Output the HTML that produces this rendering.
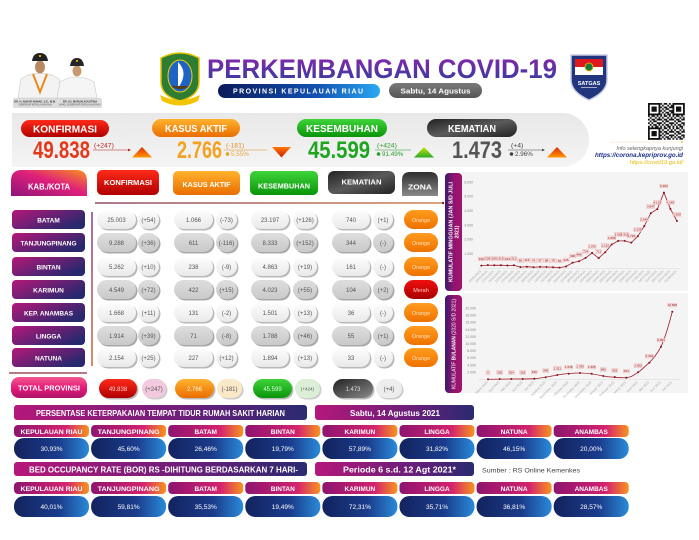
<!DOCTYPE html>
<html><head><meta charset="utf-8"><style>
html,body{margin:0;padding:0;background:#fff;width:699px;height:540px;overflow:hidden}
svg{display:block}
text{font-family:"Liberation Sans",sans-serif}
.v{font-size:6px;fill:#555;text-anchor:middle}
.nm{font-size:6.5px;fill:#fff;font-weight:bold;text-anchor:middle}
.zo{font-size:5.5px;fill:#ffe0b8;text-anchor:middle}
.yl{font-size:3.5px;fill:#888;text-anchor:end}
.xl{font-size:3.2px;fill:#aaa;text-anchor:end}
.lb{font-size:3px;fill:#7a1a1a;text-anchor:middle}
.bl{font-size:6.5px;fill:#fff;font-weight:bold;text-anchor:middle}
.bv{font-size:6.5px;fill:#fff;text-anchor:middle}
</style></head><body>
<svg width="699" height="540" viewBox="0 0 699 540" xmlns="http://www.w3.org/2000/svg">
<defs>
<linearGradient id="gTitle" x1="0" y1="0" x2="0" y2="1"><stop offset="0" stop-color="#8e24aa"/><stop offset="1" stop-color="#2f3fa0"/></linearGradient>
<linearGradient id="gProv" x1="0" y1="0" x2="1" y2="0"><stop offset="0" stop-color="#0b1a5a"/><stop offset=".6" stop-color="#1250b0"/><stop offset="1" stop-color="#2aa8f0"/></linearGradient>
<linearGradient id="gGrayP" x1="0" y1="0" x2="0" y2="1"><stop offset="0" stop-color="#7a7a7a"/><stop offset="1" stop-color="#555"/></linearGradient>
<linearGradient id="gRed" x1="0" y1="0" x2="0" y2="1"><stop offset="0" stop-color="#ff2a1a"/><stop offset="1" stop-color="#b00000"/></linearGradient>
<linearGradient id="gOr" x1="0" y1="0" x2="0" y2="1"><stop offset="0" stop-color="#ffb32e"/><stop offset="1" stop-color="#ea6d00"/></linearGradient>
<linearGradient id="gGreen" x1="0" y1="0" x2="0" y2="1"><stop offset="0" stop-color="#3fd43a"/><stop offset="1" stop-color="#0a940a"/></linearGradient>
<linearGradient id="gDark" x1="0" y1="0" x2="1" y2="1"><stop offset="0" stop-color="#222"/><stop offset=".5" stop-color="#5a5a5a"/><stop offset="1" stop-color="#222"/></linearGradient>
<linearGradient id="gZona" x1="0" y1="0" x2="0" y2="1"><stop offset="0" stop-color="#2e2e2e"/><stop offset="1" stop-color="#8a8a8a"/></linearGradient>
<linearGradient id="gKab" x1="0" y1="1" x2="1" y2="0"><stop offset="0" stop-color="#8e147a"/><stop offset=".55" stop-color="#e0207a"/><stop offset="1" stop-color="#f7931e"/></linearGradient>
<linearGradient id="gName" x1="0" y1="0" x2="1" y2=".6"><stop offset="0" stop-color="#b5187a"/><stop offset="1" stop-color="#28286e"/></linearGradient>
<linearGradient id="gTot" x1="0" y1="0" x2="0" y2="1"><stop offset="0" stop-color="#f25a8e"/><stop offset=".5" stop-color="#e61c7a"/><stop offset="1" stop-color="#ad126a"/></linearGradient>
<linearGradient id="gL" x1="0" y1="0" x2="0" y2="1"><stop offset="0" stop-color="#fdfdfd"/><stop offset="1" stop-color="#e9e9e9"/></linearGradient>
<linearGradient id="gG" x1="0" y1="0" x2="0" y2="1"><stop offset="0" stop-color="#dedede"/><stop offset="1" stop-color="#c9c9c9"/></linearGradient>
<linearGradient id="gZO" x1="0" y1="0" x2="0" y2="1"><stop offset="0" stop-color="#ff9c1e"/><stop offset="1" stop-color="#ee7200"/></linearGradient>
<linearGradient id="gZR" x1="0" y1="0" x2="0" y2="1"><stop offset="0" stop-color="#f01010"/><stop offset="1" stop-color="#a80000"/></linearGradient>
<linearGradient id="gDT" x1="0" y1="0" x2="1" y2="1"><stop offset="0" stop-color="#222"/><stop offset="1" stop-color="#8a8a8a"/></linearGradient>
<linearGradient id="gBand" x1="0" y1="0" x2="0" y2="1"><stop offset="0" stop-color="#e8e8e8"/><stop offset="1" stop-color="#f4f4f4"/></linearGradient>
<linearGradient id="gBar" x1="0" y1="0" x2="1" y2="0"><stop offset="0" stop-color="#b5187a"/><stop offset=".6" stop-color="#6a1e7a"/><stop offset="1" stop-color="#2a2a70"/></linearGradient>
<linearGradient id="gLab" x1="0" y1="0" x2="1" y2="0"><stop offset="0" stop-color="#8e1470"/><stop offset=".7" stop-color="#d4246e"/><stop offset="1" stop-color="#f7941d"/></linearGradient>
<linearGradient id="gVal" x1="0" y1="0" x2="1" y2="0"><stop offset="0" stop-color="#13235e"/><stop offset=".6" stop-color="#1a3c8c"/><stop offset="1" stop-color="#2a8ad8"/></linearGradient>
<linearGradient id="gSide" x1="0" y1="0" x2="1" y2="0"><stop offset="0" stop-color="#3a1a6e"/><stop offset=".5" stop-color="#8e1470"/><stop offset="1" stop-color="#a3146e"/></linearGradient>
<linearGradient id="gTriU" x1="0" y1="0" x2="0" y2="1"><stop offset="0" stop-color="#e02a00"/><stop offset="1" stop-color="#ff9800"/></linearGradient>
<linearGradient id="gTriD" x1="0" y1="0" x2="0" y2="1"><stop offset="0" stop-color="#ff7a00"/><stop offset="1" stop-color="#d01a00"/></linearGradient>
<linearGradient id="gTriG" x1="0" y1="0" x2="0" y2="1"><stop offset="0" stop-color="#c8e600"/><stop offset="1" stop-color="#2aa82a"/></linearGradient>
<linearGradient id="gLine" gradientUnits="userSpaceOnUse" x1="95" y1="0" x2="443" y2="0"><stop offset="0" stop-color="#7a2a4a"/><stop offset="1" stop-color="#c86a30"/></linearGradient>
<linearGradient id="gVLine" gradientUnits="userSpaceOnUse" x1="0" y1="212" x2="0" y2="366"><stop offset="0" stop-color="#8a3a8a"/><stop offset="1" stop-color="#c86a30"/></linearGradient>
<pattern id="qr" x="648" y="103" width="12.25" height="12.25" patternUnits="userSpaceOnUse">
<rect width="12.25" height="12.25" fill="#fff"/>
<g fill="#111">
<rect x="0" y="0" width="1.75" height="1.75"/><rect x="3.5" y="0" width="3.5" height="1.75"/><rect x="8.75" y="0" width="1.75" height="1.75"/>
<rect x="1.75" y="1.75" width="1.75" height="1.75"/><rect x="7" y="1.75" width="1.75" height="1.75"/><rect x="10.5" y="1.75" width="1.75" height="1.75"/>
<rect x="0" y="3.5" width="1.75" height="1.75"/><rect x="3.5" y="3.5" width="3.5" height="1.75"/><rect x="8.75" y="3.5" width="3.5" height="1.75"/>
<rect x="1.75" y="5.25" width="1.75" height="1.75"/><rect x="5.25" y="5.25" width="3.5" height="1.75"/>
<rect x="0" y="7" width="1.75" height="1.75"/><rect x="3.5" y="7" width="1.75" height="1.75"/><rect x="8.75" y="7" width="3.5" height="1.75"/>
<rect x="1.75" y="8.75" width="1.75" height="1.75"/><rect x="5.25" y="8.75" width="3.5" height="1.75"/><rect x="10.5" y="8.75" width="1.75" height="1.75"/>
<rect x="0" y="10.5" width="1.75" height="1.75"/><rect x="3.5" y="10.5" width="1.75" height="1.75"/><rect x="7" y="10.5" width="3.5" height="1.75"/>
</g></pattern>
<g id="rowL">
<rect x="98.5" y="1.5" width="39" height="19" rx="9.5" fill="#b8b8b8"/><rect x="97" y="0" width="39" height="19" rx="9.5" fill="url(#gL)"/>
<rect x="139.5" y="1.5" width="21" height="19" rx="9.5" fill="#b8b8b8"/><rect x="138" y="0" width="21" height="19" rx="9.5" fill="url(#gL)"/>
<rect x="175.5" y="1.5" width="39" height="19" rx="9.5" fill="#b8b8b8"/><rect x="174" y="0" width="39" height="19" rx="9.5" fill="url(#gL)"/>
<rect x="217.5" y="1.5" width="21" height="19" rx="9.5" fill="#b8b8b8"/><rect x="216" y="0" width="21" height="19" rx="9.5" fill="url(#gL)"/>
<rect x="252.5" y="1.5" width="38" height="19" rx="9.5" fill="#b8b8b8"/><rect x="251" y="0" width="38" height="19" rx="9.5" fill="url(#gL)"/>
<rect x="294.5" y="1.5" width="24" height="19" rx="9.5" fill="#b8b8b8"/><rect x="293" y="0" width="24" height="19" rx="9.5" fill="url(#gL)"/>
<rect x="333.5" y="1.5" width="38" height="19" rx="9.5" fill="#b8b8b8"/><rect x="332" y="0" width="38" height="19" rx="9.5" fill="url(#gL)"/>
<rect x="374.5" y="1.5" width="20" height="19" rx="9.5" fill="#b8b8b8"/><rect x="373" y="0" width="20" height="19" rx="9.5" fill="url(#gL)"/>
</g>
<g id="rowG">
<rect x="98.5" y="1.5" width="39" height="19" rx="9.5" fill="#a8a8a8"/><rect x="97" y="0" width="39" height="19" rx="9.5" fill="url(#gG)"/>
<rect x="139.5" y="1.5" width="21" height="19" rx="9.5" fill="#a8a8a8"/><rect x="138" y="0" width="21" height="19" rx="9.5" fill="url(#gG)"/>
<rect x="175.5" y="1.5" width="39" height="19" rx="9.5" fill="#a8a8a8"/><rect x="174" y="0" width="39" height="19" rx="9.5" fill="url(#gG)"/>
<rect x="217.5" y="1.5" width="21" height="19" rx="9.5" fill="#a8a8a8"/><rect x="216" y="0" width="21" height="19" rx="9.5" fill="url(#gG)"/>
<rect x="252.5" y="1.5" width="38" height="19" rx="9.5" fill="#a8a8a8"/><rect x="251" y="0" width="38" height="19" rx="9.5" fill="url(#gG)"/>
<rect x="294.5" y="1.5" width="24" height="19" rx="9.5" fill="#a8a8a8"/><rect x="293" y="0" width="24" height="19" rx="9.5" fill="url(#gG)"/>
<rect x="333.5" y="1.5" width="38" height="19" rx="9.5" fill="#a8a8a8"/><rect x="332" y="0" width="38" height="19" rx="9.5" fill="url(#gG)"/>
<rect x="374.5" y="1.5" width="20" height="19" rx="9.5" fill="#a8a8a8"/><rect x="373" y="0" width="20" height="19" rx="9.5" fill="url(#gG)"/>
</g>
<g id="labrow">
<rect x="14" y="0" width="75" height="12" rx="4" fill="url(#gLab)"/><rect x="91.1" y="0" width="75" height="12" rx="4" fill="url(#gLab)"/>
<rect x="168.2" y="0" width="75" height="12" rx="4" fill="url(#gLab)"/><rect x="245.3" y="0" width="75" height="12" rx="4" fill="url(#gLab)"/>
<rect x="322.4" y="0" width="75" height="12" rx="4" fill="url(#gLab)"/><rect x="399.5" y="0" width="75" height="12" rx="4" fill="url(#gLab)"/>
<rect x="476.6" y="0" width="75" height="12" rx="4" fill="url(#gLab)"/><rect x="553.7" y="0" width="75" height="12" rx="4" fill="url(#gLab)"/>
</g>
<g id="valrow">
<rect x="14" y="0" width="75" height="21" rx="10" fill="url(#gVal)"/><rect x="91.1" y="0" width="75" height="21" rx="10" fill="url(#gVal)"/>
<rect x="168.2" y="0" width="75" height="21" rx="10" fill="url(#gVal)"/><rect x="245.3" y="0" width="75" height="21" rx="10" fill="url(#gVal)"/>
<rect x="322.4" y="0" width="75" height="21" rx="10" fill="url(#gVal)"/><rect x="399.5" y="0" width="75" height="21" rx="10" fill="url(#gVal)"/>
<rect x="476.6" y="0" width="75" height="21" rx="10" fill="url(#gVal)"/><rect x="553.7" y="0" width="75" height="21" rx="10" fill="url(#gVal)"/>
</g>
</defs>

<!-- HEADER: portraits -->
<rect x="13" y="98" width="89" height="10" rx="2" fill="#dcdcdc"/>
<text x="35" y="102.5" font-size="2.6" fill="#333" text-anchor="middle" font-weight="bold">DR. H. ANSAR AHMAD, S.E., M.M.</text>
<text x="35" y="105.5" font-size="2.3" fill="#555" text-anchor="middle">GUBERNUR KEPULAUAN RIAU</text>
<text x="80" y="102.5" font-size="2.6" fill="#333" text-anchor="middle" font-weight="bold">DR. HJ. MARLIN AGUSTINA</text>
<text x="80" y="105.5" font-size="2.3" fill="#555" text-anchor="middle">WAKIL GUBERNUR KEPULAUAN RIAU</text>
<path d="M18,98 L21,79 Q30,73 40,73 Q50,73 59,79 L62,98 Z" fill="#f3f3f3" stroke="#c8c8c8" stroke-width=".6"/>
<polyline points="33,74 40,92 47,74" fill="none" stroke="#e8891a" stroke-width="2"/>
<ellipse cx="40" cy="67" rx="5" ry="6.5" fill="#b98760"/>
<path d="M32,61 Q33,53 40,53 Q47,53 48,61 Z" fill="#222"/>
<rect x="39" y="55" width="2" height="2" fill="#e0b000"/>
<path d="M57,98 L60,82 Q68,77 77,77 Q86,77 94,82 L97,98 Z" fill="#f5f5f5" stroke="#c8c8c8" stroke-width=".6"/>
<ellipse cx="77" cy="71" rx="4.5" ry="5.5" fill="#c9986e"/>
<path d="M70,66 Q71,58 77,58 Q83,58 84,66 Z" fill="#262626"/>
<rect x="76" y="60" width="2" height="1.8" fill="#e0b000"/>

<!-- Kepri logo -->
<path d="M161,58 Q180,48 199,58 L199,82 Q199,96 180,101 Q161,96 161,82 Z" fill="#2e7d32" stroke="#e6c200" stroke-width="1.5"/>
<ellipse cx="180" cy="76" rx="12" ry="16" fill="#1e63c6" stroke="#f5d000" stroke-width="1"/>
<path d="M178,62 Q189,73 178,88 Z" fill="#fff"/>
<path d="M171,86 Q180,92 189,86 Z" fill="#5a3a1a"/>
<path d="M160,95 Q180,105 200,95 L198,101 Q180,110 162,101 Z" fill="#f2c500"/>

<!-- Title -->
<text x="207" y="78" font-size="27" font-weight="bold" fill="url(#gTitle)" textLength="350" lengthAdjust="spacingAndGlyphs">PERKEMBANGAN COVID-19</text>
<rect x="218" y="84" width="162" height="14" rx="7" fill="url(#gProv)"/>
<text x="298" y="93.6" font-size="7" font-weight="bold" fill="#fff" text-anchor="middle" textLength="130" lengthAdjust="spacing">PROVINSI KEPULAUAN RIAU</text>
<rect x="389" y="83" width="93" height="15" rx="7.5" fill="url(#gGrayP)"/>
<text x="435.5" y="93.3" font-size="7.5" font-weight="bold" fill="#fff" text-anchor="middle" textLength="70" lengthAdjust="spacingAndGlyphs">Sabtu, 14 Agustus</text>

<!-- Satgas logo -->
<path d="M571,55 H607 V80 Q607,92 589,100 Q571,92 571,80 Z" fill="#22357f" stroke="#c9cde0" stroke-width="1.5"/>
<rect x="575" y="59" width="28" height="8" fill="#e0191e"/>
<rect x="575" y="67" width="28" height="8" fill="#fff"/>
<circle cx="589" cy="67" r="4" fill="#1a7a3a" stroke="#f0c000" stroke-width=".8"/>
<text x="589" y="85" font-size="5.5" font-weight="bold" fill="#fff" text-anchor="middle">SATGAS</text>
<rect x="581" y="87" width="16" height="1" fill="#aab"/>

<!-- QR -->
<rect x="648" y="103" width="36.75" height="36.75" fill="url(#qr)"/>
<g>
<rect x="648" y="103" width="12.25" height="12.25" fill="#111"/><rect x="649.75" y="104.75" width="8.75" height="8.75" fill="#fff"/><rect x="651.5" y="106.5" width="5.25" height="5.25" fill="#111"/>
<rect x="672.5" y="103" width="12.25" height="12.25" fill="#111"/><rect x="674.25" y="104.75" width="8.75" height="8.75" fill="#fff"/><rect x="676" y="106.5" width="5.25" height="5.25" fill="#111"/>
<rect x="648" y="127.5" width="12.25" height="12.25" fill="#111"/><rect x="649.75" y="129.25" width="8.75" height="8.75" fill="#fff"/><rect x="651.5" y="131" width="5.25" height="5.25" fill="#111"/>
</g>
<line x1="610" y1="142" x2="682" y2="142" stroke="#efe2b0" stroke-width=".6"/>
<circle cx="682" cy="142" r=".9" fill="#e0b000"/>
<text x="683" y="150" font-size="5.5" font-style="italic" fill="#666" text-anchor="end">Info selengkapnya kunjungi</text>
<text x="683" y="157" font-size="6.3" font-style="italic" font-weight="bold" fill="#1d2f8a" text-anchor="end" textLength="88" lengthAdjust="spacingAndGlyphs">https://corona.kepriprov.go.id</text>
<text x="683" y="164" font-size="5.8" font-style="italic" fill="#e6b800" text-anchor="end">https://covid19.go.id/</text>

<!-- SUMMARY BAND -->
<path d="M12,113 H562 A27,27 0 0 1 562,167 H12 Z" fill="url(#gBand)"/>
<rect x="21" y="120" width="88" height="17" rx="8.5" fill="url(#gRed)"/>
<text x="65" y="132.5" font-size="10" font-weight="bold" fill="#fff" text-anchor="middle" textLength="64" lengthAdjust="spacingAndGlyphs">KONFIRMASI</text>
<text x="33" y="158" font-size="24" font-weight="bold" fill="#e5381a" textLength="57" lengthAdjust="spacingAndGlyphs">49.838</text>
<text x="94" y="147.5" font-size="6.8" fill="#b71c1c">(+247)</text>
<line x1="93" y1="150" x2="130" y2="150" stroke="#b71c1c" stroke-width=".6"/>
<path d="M128,148.6 L131,150 L128,151.4 Z" fill="#b71c1c"/>
<path d="M132,157.5 L152,157.5 L142,147 Z" fill="url(#gTriU)"/>

<rect x="152" y="119" width="88" height="18" rx="9" fill="url(#gOr)"/>
<text x="196" y="132" font-size="10" font-weight="bold" fill="#fff" text-anchor="middle" textLength="62" lengthAdjust="spacingAndGlyphs">KASUS AKTIF</text>
<text x="177" y="158" font-size="24" font-weight="bold" fill="#f3a221" textLength="45" lengthAdjust="spacingAndGlyphs">2.766</text>
<text x="226" y="147.5" font-size="6.8" fill="#e08a1a">(-181)</text>
<line x1="224" y1="150" x2="267" y2="150" stroke="#e08a1a" stroke-width=".6"/>
<circle cx="227.5" cy="154" r="1.8" fill="#e8a020"/>
<text x="231" y="156" font-size="6.3" fill="#e8a33a">5.55%</text>
<path d="M272,147 L291,147 L281.5,157.5 Z" fill="url(#gTriD)"/>

<rect x="297" y="119" width="90" height="18" rx="9" fill="url(#gGreen)"/>
<text x="342" y="132" font-size="10" font-weight="bold" fill="#fff" text-anchor="middle" textLength="72" lengthAdjust="spacingAndGlyphs">KESEMBUHAN</text>
<text x="308" y="158" font-size="24" font-weight="bold" fill="#1fa51f" textLength="62" lengthAdjust="spacingAndGlyphs">45.599</text>
<text x="377" y="147.5" font-size="6.8" fill="#2a9a2a">(+424)</text>
<line x1="375" y1="150" x2="411" y2="150" stroke="#2a9a2a" stroke-width=".6"/>
<circle cx="378.5" cy="154" r="1.8" fill="#2a9a2a"/>
<text x="382" y="156" font-size="6.3" fill="#2a9a2a">91.49%</text>
<path d="M414,157.5 L434,157.5 L424,147 Z" fill="url(#gTriG)"/>

<rect x="427" y="119" width="90" height="18" rx="9" fill="url(#gDark)"/>
<text x="472" y="132" font-size="10" font-weight="bold" fill="#fff" text-anchor="middle" textLength="48" lengthAdjust="spacingAndGlyphs">KEMATIAN</text>
<text x="452" y="158" font-size="24" font-weight="bold" fill="#555" textLength="50" lengthAdjust="spacingAndGlyphs">1.473</text>
<text x="511" y="147.5" font-size="6.8" fill="#444">(+4)</text>
<line x1="508" y1="150" x2="544" y2="150" stroke="#444" stroke-width=".6"/>
<path d="M542,148.6 L545,150 L542,151.4 Z" fill="#444"/>
<circle cx="511.5" cy="154" r="1.8" fill="#444"/>
<text x="515" y="156" font-size="6.3" fill="#444">2.96%</text>
<path d="M547,157.5 L567,157.5 L557,147 Z" fill="url(#gTriU)"/>

<!-- TABLE HEADERS -->
<path d="M11,196 V181 Q11,170 22,170 H76 Q87,170 87,181 V196 Z" fill="url(#gKab)"/>
<text x="49" y="189.5" font-size="8" font-weight="bold" fill="#fff" text-anchor="middle" textLength="42" lengthAdjust="spacingAndGlyphs">KAB./KOTA</text>
<rect x="97" y="170" width="62" height="25" rx="5" fill="url(#gRed)"/>
<text x="128" y="185" font-size="7.5" font-weight="bold" fill="#fff" text-anchor="middle" textLength="48" lengthAdjust="spacingAndGlyphs">KONFIRMASI</text>
<rect x="173" y="171" width="67" height="24" rx="5" fill="url(#gOr)"/>
<text x="206.5" y="187" font-size="7.5" font-weight="bold" fill="#fff" text-anchor="middle" textLength="48" lengthAdjust="spacingAndGlyphs">KASUS AKTIF</text>
<rect x="250" y="171" width="68" height="24" rx="5" fill="url(#gGreen)"/>
<text x="284" y="188.5" font-size="7.5" font-weight="bold" fill="#fff" text-anchor="middle" textLength="52" lengthAdjust="spacingAndGlyphs">KESEMBUHAN</text>
<rect x="328" y="171" width="67" height="23" rx="6" fill="url(#gDark)"/>
<text x="361.5" y="184.5" font-size="7.5" font-weight="bold" fill="#fff" text-anchor="middle" textLength="40" lengthAdjust="spacingAndGlyphs">KEMATIAN</text>
<path d="M402,196 V180 Q402,172 410,172 H430 Q438,172 438,180 V196 Z" fill="url(#gZona)"/>
<text x="420" y="189.5" font-size="7.5" font-weight="bold" fill="#fff" text-anchor="middle" textLength="24" lengthAdjust="spacingAndGlyphs">ZONA</text>
<line x1="95" y1="203" x2="443" y2="203" stroke="url(#gLine)" stroke-width="1.2"/>
<circle cx="443" cy="203" r="1.2" fill="#7a2a2a"/>
<line x1="92" y1="212" x2="92" y2="366" stroke="url(#gVLine)" stroke-width="1.5"/>
<line x1="9" y1="373" x2="87" y2="373" stroke="#8b2a3a" stroke-width="1.2"/>

<!-- ROWS -->
<use href="#rowL" y="210"/><use href="#rowG" y="233"/><use href="#rowL" y="257"/><use href="#rowG" y="280"/>
<use href="#rowL" y="303"/><use href="#rowG" y="326"/><use href="#rowL" y="348"/>

<g transform="translate(0,210)">
<rect x="12" y="0" width="73" height="19" rx="4" fill="url(#gName)"/><text class="nm" x="48.5" y="12.3">BATAM</text>
<text class="v" x="116.5" y="11.8">25.003</text><text class="v" x="148.5" y="11.8">(+54)</text><text class="v" x="193.5" y="11.8">1.066</text><text class="v" x="226.5" y="11.8">(-73)</text>
<text class="v" x="270" y="11.8">23.197</text><text class="v" x="305" y="11.8">(+126)</text><text class="v" x="351" y="11.8">740</text><text class="v" x="383" y="11.8">(+1)</text>
<rect x="404" y="0" width="34" height="19" rx="9.5" fill="url(#gZO)"/><text class="zo" x="421" y="11.8">Orange</text>
</g>
<g transform="translate(0,233)">
<rect x="12" y="0" width="73" height="19" rx="4" fill="url(#gName)"/><text class="nm" x="48.5" y="12.3" textLength="56" lengthAdjust="spacingAndGlyphs">TANJUNGPINANG</text>
<text class="v" x="116.5" y="11.8">9.288</text><text class="v" x="148.5" y="11.8">(+36)</text><text class="v" x="193.5" y="11.8">611</text><text class="v" x="226.5" y="11.8">(-116)</text>
<text class="v" x="270" y="11.8">8.333</text><text class="v" x="305" y="11.8">(+152)</text><text class="v" x="351" y="11.8">344</text><text class="v" x="383" y="11.8">(-)</text>
<rect x="404" y="0" width="34" height="19" rx="9.5" fill="url(#gZO)"/><text class="zo" x="421" y="11.8">Orange</text>
</g>
<g transform="translate(0,257)">
<rect x="12" y="0" width="73" height="19" rx="4" fill="url(#gName)"/><text class="nm" x="48.5" y="12.3">BINTAN</text>
<text class="v" x="116.5" y="11.8">5.262</text><text class="v" x="148.5" y="11.8">(+10)</text><text class="v" x="193.5" y="11.8">238</text><text class="v" x="226.5" y="11.8">(-9)</text>
<text class="v" x="270" y="11.8">4.863</text><text class="v" x="305" y="11.8">(+19)</text><text class="v" x="351" y="11.8">161</text><text class="v" x="383" y="11.8">(-)</text>
<rect x="404" y="0" width="34" height="19" rx="9.5" fill="url(#gZO)"/><text class="zo" x="421" y="11.8">Orange</text>
</g>
<g transform="translate(0,280)">
<rect x="12" y="0" width="73" height="19" rx="4" fill="url(#gName)"/><text class="nm" x="48.5" y="12.3">KARIMUN</text>
<text class="v" x="116.5" y="11.8">4.549</text><text class="v" x="148.5" y="11.8">(+72)</text><text class="v" x="193.5" y="11.8">422</text><text class="v" x="226.5" y="11.8">(+15)</text>
<text class="v" x="270" y="11.8">4.023</text><text class="v" x="305" y="11.8">(+55)</text><text class="v" x="351" y="11.8">104</text><text class="v" x="383" y="11.8">(+2)</text>
<rect x="404" y="0" width="34" height="19" rx="9.5" fill="url(#gZR)"/><text class="zo" x="421" y="11.8" style="fill:#ffc8c8">Merah</text>
</g>
<g transform="translate(0,303)">
<rect x="12" y="0" width="73" height="19" rx="4" fill="url(#gName)"/><text class="nm" x="48.5" y="12.3">KEP. ANAMBAS</text>
<text class="v" x="116.5" y="11.8">1.668</text><text class="v" x="148.5" y="11.8">(+11)</text><text class="v" x="193.5" y="11.8">131</text><text class="v" x="226.5" y="11.8">(-2)</text>
<text class="v" x="270" y="11.8">1.501</text><text class="v" x="305" y="11.8">(+13)</text><text class="v" x="351" y="11.8">36</text><text class="v" x="383" y="11.8">(-)</text>
<rect x="404" y="0" width="34" height="19" rx="9.5" fill="url(#gZO)"/><text class="zo" x="421" y="11.8">Orange</text>
</g>
<g transform="translate(0,326)">
<rect x="12" y="0" width="73" height="19" rx="4" fill="url(#gName)"/><text class="nm" x="48.5" y="12.3">LINGGA</text>
<text class="v" x="116.5" y="11.8">1.914</text><text class="v" x="148.5" y="11.8">(+39)</text><text class="v" x="193.5" y="11.8">71</text><text class="v" x="226.5" y="11.8">(-8)</text>
<text class="v" x="270" y="11.8">1.788</text><text class="v" x="305" y="11.8">(+46)</text><text class="v" x="351" y="11.8">55</text><text class="v" x="383" y="11.8">(+1)</text>
<rect x="404" y="0" width="34" height="19" rx="9.5" fill="url(#gZO)"/><text class="zo" x="421" y="11.8">Orange</text>
</g>
<g transform="translate(0,348)">
<rect x="12" y="0" width="73" height="19" rx="4" fill="url(#gName)"/><text class="nm" x="48.5" y="12.3">NATUNA</text>
<text class="v" x="116.5" y="11.8">2.154</text><text class="v" x="148.5" y="11.8">(+25)</text><text class="v" x="193.5" y="11.8">227</text><text class="v" x="226.5" y="11.8">(+12)</text>
<text class="v" x="270" y="11.8">1.894</text><text class="v" x="305" y="11.8">(+13)</text><text class="v" x="351" y="11.8">33</text><text class="v" x="383" y="11.8">(-)</text>
<rect x="404" y="0" width="34" height="19" rx="9.5" fill="url(#gZO)"/><text class="zo" x="421" y="11.8">Orange</text>
</g>

<!-- TOTAL -->
<rect x="11" y="377" width="76" height="21" rx="8" fill="url(#gTot)"/>
<text x="49" y="390.5" font-size="7.5" font-weight="bold" fill="#fff" text-anchor="middle" textLength="62" lengthAdjust="spacingAndGlyphs">TOTAL PROVINSI</text>
<rect x="100.5" y="380.5" width="38" height="19" rx="9.5" fill="#bbb"/><rect x="99" y="379" width="38" height="19" rx="9.5" fill="url(#gRed)"/>
<text class="v" x="118" y="390.8" style="fill:#ffd0d0">49.838</text>
<rect x="143.5" y="380.5" width="24" height="19" rx="9.5" fill="#ccc"/><rect x="142" y="379" width="24" height="19" rx="9.5" fill="#f2c9de"/>
<text class="v" x="154" y="390.8">(+247)</text>
<rect x="176.5" y="380.5" width="39" height="19" rx="9.5" fill="#bbb"/><rect x="175" y="379" width="39" height="19" rx="9.5" fill="url(#gOr)"/>
<text class="v" x="194.5" y="390.8" style="fill:#fff3e0">2.766</text>
<rect x="218.5" y="380.5" width="25" height="19" rx="9.5" fill="#ccc"/><rect x="217" y="379" width="25" height="19" rx="9.5" fill="#fae9c8"/>
<text class="v" x="229.5" y="390.8">(-181)</text>
<rect x="254.5" y="380.5" width="39" height="19" rx="9.5" fill="#bbb"/><rect x="253" y="379" width="39" height="19" rx="9.5" fill="url(#gGreen)"/>
<text class="v" x="272.5" y="390.8" style="fill:#d8ffd8">45.599</text>
<rect x="296.5" y="380.5" width="25" height="19" rx="9.5" fill="#ccc"/><rect x="295" y="379" width="25" height="19" rx="9.5" fill="#dcefd6"/>
<text class="v" x="307.5" y="390.3" style="font-size:4.5px">(+424)</text>
<rect x="334.5" y="380.5" width="40" height="19" rx="9.5" fill="#bbb"/><rect x="333" y="379" width="40" height="19" rx="9.5" fill="url(#gDT)"/>
<text class="v" x="353" y="390.8" style="fill:#ddd">1.473</text>
<rect x="377.5" y="380.5" width="26" height="19" rx="9.5" fill="#ccc"/><rect x="376" y="379" width="26" height="19" rx="9.5" fill="#ededed"/>
<text class="v" x="389" y="390.8">(+4)</text>

<!-- CHART 1 -->
<rect x="462" y="172" width="226" height="119" fill="#f4f4f4"/>
<rect x="445" y="173" width="17" height="118" rx="4" fill="url(#gSide)"/>
<text transform="translate(452.5,232) rotate(-90)" font-size="5" font-weight="bold" fill="#fff" text-anchor="middle" textLength="100" lengthAdjust="spacingAndGlyphs">KUMULATIF MINGGUAN (JAN S/D JULI</text>
<text transform="translate(458.5,232) rotate(-90)" font-size="5" font-weight="bold" fill="#fff" text-anchor="middle">2021)</text>
<line x1="478" y1="268.3" x2="681" y2="268.3" stroke="#d8d8d8" stroke-width=".5"/>
<g>
<text class="yl" x="473" y="255">1.000</text><text class="yl" x="473" y="240.7">2.000</text><text class="yl" x="473" y="226.3">3.000</text>
<text class="yl" x="473" y="212">4.000</text><text class="yl" x="473" y="197.7">5.000</text><text class="yl" x="473" y="183.3">6.000</text>
</g>
<polyline fill="none" stroke="#a11d2a" stroke-width=".8" points="481.3,265.6 487.8,265.1 494.3,265.3 500.9,265.2 507.4,265.5 513.9,265.3 520.4,267.1 526.9,266.7 533.5,267.2 540.0,266.9 546.5,267.0 553.0,267.2 559.5,267.6 566.1,266.5 572.6,262.6 579.1,261.3 585.6,257.9 592.1,252.9 598.7,258.1 605.2,252.2 611.7,244.5 618.2,240.9 624.7,240.9 631.3,242.6 637.8,236.3 644.3,226.1 650.8,213.2 657.3,209.1 663.9,192.6 670.4,208.9 676.9,221.0"/>
<g fill="#8a1020">
<circle cx="481.3" cy="265.6" r="1"/><circle cx="487.8" cy="265.1" r="1"/><circle cx="494.3" cy="265.3" r="1"/><circle cx="500.9" cy="265.2" r="1"/><circle cx="507.4" cy="265.5" r="1"/><circle cx="513.9" cy="265.3" r="1"/><circle cx="520.4" cy="267.1" r="1"/><circle cx="526.9" cy="266.7" r="1"/><circle cx="533.5" cy="267.2" r="1"/><circle cx="540.0" cy="266.9" r="1"/><circle cx="546.5" cy="267.0" r="1"/><circle cx="553.0" cy="267.2" r="1"/><circle cx="559.5" cy="267.6" r="1"/><circle cx="566.1" cy="266.5" r="1"/><circle cx="572.6" cy="262.6" r="1"/><circle cx="579.1" cy="261.3" r="1"/><circle cx="585.6" cy="257.9" r="1"/><circle cx="592.1" cy="252.9" r="1"/><circle cx="598.7" cy="258.1" r="1"/><circle cx="605.2" cy="252.2" r="1"/><circle cx="611.7" cy="244.5" r="1"/><circle cx="618.2" cy="240.9" r="1"/><circle cx="624.7" cy="240.9" r="1"/><circle cx="631.3" cy="242.6" r="1"/><circle cx="637.8" cy="236.3" r="1"/><circle cx="644.3" cy="226.1" r="1"/><circle cx="650.8" cy="213.2" r="1"/><circle cx="657.3" cy="209.1" r="1"/><circle cx="663.9" cy="192.6" r="1"/><circle cx="670.4" cy="208.9" r="1"/><circle cx="676.9" cy="221.0" r="1"/>
</g>
<g fill="#fbe0e0" stroke="#e4a0a0" stroke-width=".3">
<rect x="478.3" y="257.1" width="6" height="3.8"/><rect x="484.8" y="256.6" width="6" height="3.8"/><rect x="491.3" y="256.8" width="6" height="3.8"/><rect x="497.9" y="256.7" width="6" height="3.8"/><rect x="504.4" y="257" width="6" height="3.8"/><rect x="510.9" y="256.8" width="6" height="3.8"/><rect x="517.4" y="258.6" width="6" height="3.8"/><rect x="523.9" y="258.2" width="6" height="3.8"/><rect x="530.5" y="258.7" width="6" height="3.8"/><rect x="537" y="258.4" width="6" height="3.8"/><rect x="543.5" y="258.5" width="6" height="3.8"/><rect x="550" y="258.7" width="6" height="3.8"/><rect x="556.5" y="259.1" width="6" height="3.8"/><rect x="563.1" y="258" width="6" height="3.8"/><rect x="569.6" y="254.1" width="6" height="3.8"/><rect x="576.1" y="252.8" width="6" height="3.8"/><rect x="582.6" y="249.4" width="6" height="3.8"/><rect x="588.1" y="244.4" width="8" height="3.8"/><rect x="595.7" y="249.6" width="6" height="3.8"/><rect x="601.2" y="243.7" width="8" height="3.8"/><rect x="607.7" y="236" width="8" height="3.8"/><rect x="614.2" y="232.4" width="8" height="3.8"/><rect x="620.7" y="232.4" width="8" height="3.8"/><rect x="627.3" y="234.1" width="8" height="3.8"/><rect x="633.8" y="227.8" width="8" height="3.8"/><rect x="640.3" y="217.6" width="8" height="3.8"/><rect x="646.8" y="204.7" width="8" height="3.8"/><rect x="653.3" y="200.6" width="8" height="3.8"/><rect x="659.9" y="184.1" width="8" height="3.8"/><rect x="666.4" y="200.4" width="8" height="3.8"/><rect x="672.9" y="212.5" width="8" height="3.8"/>
</g>
<g>
<text class="lb" x="481.3" y="260">190</text><text class="lb" x="487.8" y="259.5">226</text><text class="lb" x="494.3" y="259.7">209</text><text class="lb" x="500.9" y="259.6">215</text><text class="lb" x="507.4" y="259.9">193</text><text class="lb" x="513.9" y="259.7">212</text><text class="lb" x="520.4" y="261.5">86</text><text class="lb" x="526.9" y="261.1">113</text><text class="lb" x="533.5" y="261.6">74</text><text class="lb" x="540" y="261.3">97</text><text class="lb" x="546.5" y="261.4">88</text><text class="lb" x="553" y="261.6">79</text><text class="lb" x="559.5" y="262">52</text><text class="lb" x="566.1" y="260.9">125</text><text class="lb" x="572.6" y="257">396</text><text class="lb" x="579.1" y="255.7">486</text><text class="lb" x="585.6" y="252.3">724</text><text class="lb" x="592.1" y="247.3">1.072</text><text class="lb" x="598.7" y="252.5">711</text><text class="lb" x="605.2" y="246.6">1.122</text><text class="lb" x="611.7" y="238.9">1.659</text><text class="lb" x="618.2" y="235.3">1.912</text><text class="lb" x="624.7" y="235.3">1.913</text><text class="lb" x="631.3" y="237">1.794</text><text class="lb" x="637.8" y="230.7">2.235</text><text class="lb" x="644.3" y="220.5">2.946</text><text class="lb" x="650.8" y="207.6">3.847</text><text class="lb" x="657.3" y="203.5">4.129</text><text class="lb" x="663.9" y="187">5.284</text><text class="lb" x="670.4" y="203.3">4.146</text><text class="lb" x="676.9" y="215.4">3.300</text>
</g>
<g>
<text class="xl" transform="translate(481.3,271.5) rotate(-45)">03/01/2021</text><text class="xl" transform="translate(487.8,271.5) rotate(-45)">10/01/2021</text><text class="xl" transform="translate(494.3,271.5) rotate(-45)">17/01/2021</text><text class="xl" transform="translate(500.9,271.5) rotate(-45)">24/01/2021</text><text class="xl" transform="translate(507.4,271.5) rotate(-45)">31/01/2021</text><text class="xl" transform="translate(513.9,271.5) rotate(-45)">07/02/2021</text><text class="xl" transform="translate(520.4,271.5) rotate(-45)">14/02/2021</text><text class="xl" transform="translate(526.9,271.5) rotate(-45)">21/02/2021</text><text class="xl" transform="translate(533.5,271.5) rotate(-45)">28/02/2021</text><text class="xl" transform="translate(540,271.5) rotate(-45)">07/03/2021</text><text class="xl" transform="translate(546.5,271.5) rotate(-45)">14/03/2021</text><text class="xl" transform="translate(553,271.5) rotate(-45)">21/03/2021</text><text class="xl" transform="translate(559.5,271.5) rotate(-45)">28/03/2021</text><text class="xl" transform="translate(566.1,271.5) rotate(-45)">04/04/2021</text><text class="xl" transform="translate(572.6,271.5) rotate(-45)">11/04/2021</text><text class="xl" transform="translate(579.1,271.5) rotate(-45)">18/04/2021</text><text class="xl" transform="translate(585.6,271.5) rotate(-45)">25/04/2021</text><text class="xl" transform="translate(592.1,271.5) rotate(-45)">02/05/2021</text><text class="xl" transform="translate(598.7,271.5) rotate(-45)">09/05/2021</text><text class="xl" transform="translate(605.2,271.5) rotate(-45)">16/05/2021</text><text class="xl" transform="translate(611.7,271.5) rotate(-45)">23/05/2021</text><text class="xl" transform="translate(618.2,271.5) rotate(-45)">30/05/2021</text><text class="xl" transform="translate(624.7,271.5) rotate(-45)">06/06/2021</text><text class="xl" transform="translate(631.3,271.5) rotate(-45)">13/06/2021</text><text class="xl" transform="translate(637.8,271.5) rotate(-45)">20/06/2021</text><text class="xl" transform="translate(644.3,271.5) rotate(-45)">27/06/2021</text><text class="xl" transform="translate(650.8,271.5) rotate(-45)">04/07/2021</text><text class="xl" transform="translate(657.3,271.5) rotate(-45)">11/07/2021</text><text class="xl" transform="translate(663.9,271.5) rotate(-45)">18/07/2021</text><text class="xl" transform="translate(670.4,271.5) rotate(-45)">25/07/2021</text><text class="xl" transform="translate(676.9,271.5) rotate(-45)">01/08/2021</text>
</g>

<!-- CHART 2 -->
<rect x="462" y="293" width="226" height="100" fill="#f4f4f4"/>
<rect x="445" y="295" width="17" height="98" rx="4" fill="url(#gSide)"/>
<text transform="translate(455.5,344) rotate(-90)" font-size="5" fill="#fff" text-anchor="middle" textLength="90" lengthAdjust="spacingAndGlyphs">KUMULATIF <tspan font-weight="bold">BULANAN</tspan> (2020 S/D 2021)</text>
<line x1="478" y1="379.5" x2="681" y2="379.5" stroke="#d8d8d8" stroke-width=".5"/>
<g>
<text class="yl" x="476" y="373.4">2.000</text><text class="yl" x="476" y="366.3">4.000</text><text class="yl" x="476" y="359.2">6.000</text><text class="yl" x="476" y="352.1">8.000</text><text class="yl" x="476" y="345">10.000</text><text class="yl" x="476" y="337.9">12.000</text><text class="yl" x="476" y="330.8">14.000</text><text class="yl" x="476" y="323.7">16.000</text><text class="yl" x="476" y="316.6">18.000</text><text class="yl" x="476" y="309.5">20.000</text>
</g>
<path fill="none" stroke="#a11d2a" stroke-width=".8" d="M488,379.3 C494,379.2 505,379 511.3,379 C517,379 528,379 534.3,378.7 C540,378.3 550,376.5 557.3,375 C563,374 574,373 580,373 C586,373 596,374.5 603.3,376 C609,377 620,377.9 626.3,377.7 C631,377.5 634,375 638,372.3 C643,369 645,366 649.3,362.7 C654,358 657,354 661,346.7 C666,336 669,324 672.3,311.7"/>
<g fill="#8a1020">
<circle cx="488" cy="379.3" r="1"/><circle cx="499.7" cy="379" r="1"/><circle cx="511.3" cy="379" r="1"/><circle cx="522.7" cy="379" r="1"/><circle cx="534.3" cy="378.7" r="1"/><circle cx="545.7" cy="377.3" r="1"/><circle cx="557.3" cy="375" r="1"/><circle cx="568.7" cy="373.7" r="1"/><circle cx="580" cy="373" r="1"/><circle cx="591.7" cy="373.7" r="1"/><circle cx="603.3" cy="376" r="1"/><circle cx="614.7" cy="377" r="1"/><circle cx="626.3" cy="377.7" r="1"/><circle cx="638" cy="372.3" r="1"/><circle cx="649.3" cy="362.7" r="1"/><circle cx="661" cy="346.7" r="1"/><circle cx="672.3" cy="311.7" r="1"/>
</g>
<g fill="#fbe0e0" stroke="#e4a0a0" stroke-width=".3">
<rect x="486" y="370.8" width="4" height="3.8"/><rect x="496.7" y="370.5" width="6" height="3.8"/><rect x="508.3" y="370.5" width="6" height="3.8"/><rect x="519.7" y="370.5" width="6" height="3.8"/><rect x="531.3" y="370.2" width="6" height="3.8"/><rect x="542.7" y="368.8" width="6" height="3.8"/><rect x="553.3" y="366.5" width="8" height="3.8"/><rect x="564.7" y="365.2" width="8" height="3.8"/><rect x="576" y="364.5" width="8" height="3.8"/><rect x="587.7" y="365.2" width="8" height="3.8"/><rect x="600.3" y="367.5" width="6" height="3.8"/><rect x="611.7" y="368.5" width="6" height="3.8"/><rect x="623.3" y="369.2" width="6" height="3.8"/><rect x="634" y="363.8" width="8" height="3.8"/><rect x="645.3" y="354.2" width="8" height="3.8"/><rect x="657" y="338.2" width="8" height="3.8"/><rect x="667.8" y="303.2" width="9" height="3.8"/>
</g>
<g>
<text class="lb" x="488" y="373.7">0</text><text class="lb" x="499.7" y="373.4">282</text><text class="lb" x="511.3" y="373.4">354</text><text class="lb" x="522.7" y="373.4">318</text><text class="lb" x="534.3" y="373.1">190</text><text class="lb" x="545.7" y="371.7">945</text><text class="lb" x="557.3" y="369.4">1.311</text><text class="lb" x="568.7" y="368.1">1.646</text><text class="lb" x="580" y="367.4">1.780</text><text class="lb" x="591.7" y="368.1">1.625</text><text class="lb" x="603.3" y="370.4">980</text><text class="lb" x="614.7" y="371.4">653</text><text class="lb" x="626.3" y="372.1">464</text><text class="lb" x="638" y="366.7">1.950</text><text class="lb" x="649.3" y="357.1">4.404</text><text class="lb" x="661" y="341.1">9.093</text><text class="lb" x="672.3" y="306.1">16.838</text>
</g>
<g>
<text class="xl" transform="translate(488,382.5) rotate(-45)">Maret 2020</text><text class="xl" transform="translate(499.7,382.5) rotate(-45)">April 2020</text><text class="xl" transform="translate(511.3,382.5) rotate(-45)">Mei 2020</text><text class="xl" transform="translate(522.7,382.5) rotate(-45)">Juni 2020</text><text class="xl" transform="translate(534.3,382.5) rotate(-45)">Juli 2020</text><text class="xl" transform="translate(545.7,382.5) rotate(-45)">Agustus 2020</text><text class="xl" transform="translate(557.3,382.5) rotate(-45)">September 2020</text><text class="xl" transform="translate(568.7,382.5) rotate(-45)">Oktober 2020</text><text class="xl" transform="translate(580,382.5) rotate(-45)">November 2020</text><text class="xl" transform="translate(591.7,382.5) rotate(-45)">Desember 2020</text><text class="xl" transform="translate(603.3,382.5) rotate(-45)">Januari 2021</text><text class="xl" transform="translate(614.7,382.5) rotate(-45)">Februari 2021</text><text class="xl" transform="translate(626.3,382.5) rotate(-45)">Maret 2021</text><text class="xl" transform="translate(638,382.5) rotate(-45)">April 2021</text><text class="xl" transform="translate(649.3,382.5) rotate(-45)">Mei 2021</text><text class="xl" transform="translate(661,382.5) rotate(-45)">Juni 2021</text><text class="xl" transform="translate(672.3,382.5) rotate(-45)">Juli 2021</text>
</g>

<!-- BOTTOM -->
<rect x="14" y="405" width="293" height="15" rx="3" fill="url(#gBar)"/>
<text x="160.5" y="415.8" font-size="8.5" font-weight="bold" fill="#fff" text-anchor="middle" textLength="249" lengthAdjust="spacingAndGlyphs">PERSENTASE KETERPAKAIAN TEMPAT TIDUR RUMAH SAKIT HARIAN</text>
<rect x="315" y="405" width="159" height="15" rx="3" fill="url(#gBar)"/>
<text x="395" y="415.8" font-size="8.5" font-weight="bold" fill="#fff" text-anchor="middle" textLength="90" lengthAdjust="spacingAndGlyphs">Sabtu, 14 Agustus 2021</text>
<use href="#labrow" y="425"/>
<use href="#valrow" y="438"/>
<g>
<text class="bl" x="51.5" y="434" textLength="62" lengthAdjust="spacingAndGlyphs">KEPULAUAN RIAU</text><text class="bl" x="128.6" y="434" textLength="62" lengthAdjust="spacingAndGlyphs">TANJUNGPINANG</text><text class="bl" x="205.7" y="434">BATAM</text><text class="bl" x="282.8" y="434">BINTAN</text><text class="bl" x="359.9" y="434">KARIMUN</text><text class="bl" x="437" y="434">LINGGA</text><text class="bl" x="514.1" y="434">NATUNA</text><text class="bl" x="591.2" y="434">ANAMBAS</text>
<text class="bv" x="51.5" y="451">30,93%</text><text class="bv" x="128.6" y="451">45,60%</text><text class="bv" x="205.7" y="451">26,46%</text><text class="bv" x="282.8" y="451">19,79%</text><text class="bv" x="359.9" y="451">57,89%</text><text class="bv" x="437" y="451">31,82%</text><text class="bv" x="514.1" y="451">46,15%</text><text class="bv" x="591.2" y="451">20,00%</text>
</g>
<rect x="14" y="462" width="293" height="14" rx="3" fill="url(#gBar)"/>
<text x="163.5" y="472.5" font-size="8.5" font-weight="bold" fill="#fff" text-anchor="middle" textLength="269" lengthAdjust="spacingAndGlyphs">BED OCCUPANCY RATE (BOR) RS -DIHITUNG BERDASARKAN 7 HARI-</text>
<rect x="315" y="462" width="159" height="14" rx="3" fill="url(#gBar)"/>
<text x="399.5" y="472.5" font-size="8.5" font-weight="bold" fill="#fff" text-anchor="middle" textLength="113" lengthAdjust="spacingAndGlyphs">Periode 6 s.d. 12 Agt 2021*</text>
<text x="482" y="472.5" font-size="6.5" fill="#444" textLength="98" lengthAdjust="spacingAndGlyphs">Sumber : RS Online Kemenkes</text>
<use href="#labrow" y="482"/>
<use href="#valrow" y="496"/>
<g>
<text class="bl" x="51.5" y="491" textLength="62" lengthAdjust="spacingAndGlyphs">KEPULAUAN RIAU</text><text class="bl" x="128.6" y="491" textLength="62" lengthAdjust="spacingAndGlyphs">TANJUNGPINANG</text><text class="bl" x="205.7" y="491">BATAM</text><text class="bl" x="282.8" y="491">BINTAN</text><text class="bl" x="359.9" y="491">KARIMUN</text><text class="bl" x="437" y="491">LINGGA</text><text class="bl" x="514.1" y="491">NATUNA</text><text class="bl" x="591.2" y="491">ANAMBAS</text>
<text class="bv" x="51.5" y="509">40,01%</text><text class="bv" x="128.6" y="509">59,81%</text><text class="bv" x="205.7" y="509">35,53%</text><text class="bv" x="282.8" y="509">19,49%</text><text class="bv" x="359.9" y="509">72,31%</text><text class="bv" x="437" y="509">35,71%</text><text class="bv" x="514.1" y="509">36,81%</text><text class="bv" x="591.2" y="509">28,57%</text>
</g>
</svg>
</body></html>
